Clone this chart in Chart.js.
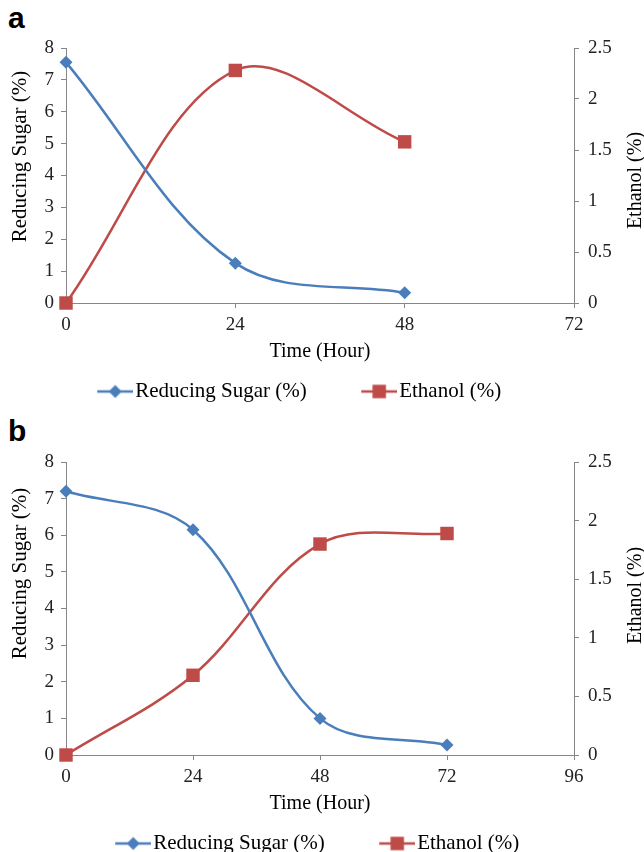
<!DOCTYPE html>
<html>
<head>
<meta charset="utf-8">
<script src="https://cdn.jsdelivr.net/npm/chart.js@4.4.1/dist/chart.umd.min.js"></script>
<style>
html, body { margin: 0; padding: 0; background: #fff; overflow: hidden; }
body { width: 644px; height: 852px; position: relative; }
.panel { position: absolute; left: 0; width: 644px; }
.tag { position: absolute; left: 8px; font: bold 30px "Liberation Sans", Arial, sans-serif; color: #000; line-height: 34px; }
</style>
</head>
<body>
<div class="tag" style="top:1px">a</div>
<div class="panel" style="top:0; height:412px"><canvas id="chartA"></canvas></div>
<div class="tag" style="top:414px">b</div>
<div class="panel" style="top:420px; height:444px"><canvas id="chartB"></canvas></div>
<script>
// panel a
const hoursA = [0, 24, 48];
const sugarA = [7.55, 1.25, 0.32];
const ethanolA = [0, 2.28, 1.58];
const timeTicksA = [0, 24, 48, 72];

// panel b
const hoursB = [0, 24, 48, 72];
const sugarB = [7.2, 6.15, 1.0, 0.27];
const ethanolB = [0, 0.68, 1.8, 1.89];
const timeTicksB = [0, 24, 48, 72, 96];

const sugarTicks = [0, 1, 2, 3, 4, 5, 6, 7, 8];
const ethanolTicks = [0, 0.5, 1, 1.5, 2, 2.5];

const BLUE = '#4a7ebb';
const RED = '#be4b48';
const AXIS = '#868686';
const FONT = '"Liberation Serif", "Times New Roman", serif';
const BOX_W = 72;

// line + marker sample for the legend, the line ends just before the text
function legendGlyph(color, style, r) {
    const c = document.createElement('canvas');
    c.width = BOX_W + 17;
    c.height = 22;
    const g = c.getContext('2d');
    g.strokeStyle = color;
    g.lineWidth = 2.5;
    g.beginPath();
    g.moveTo(c.width - 36, 11);
    g.lineTo(c.width, 11);
    g.stroke();
    g.fillStyle = color;
    Chart.helpers.drawPoint(g, {pointStyle: style, radius: r, borderWidth: 0}, c.width - 18, 11);
    return c;
}

function vText(ctx, text, x, y, size) {
    ctx.save();
    ctx.translate(x, y);
    ctx.rotate(-Math.PI / 2);
    ctx.font = size + 'px ' + FONT;
    ctx.fillStyle = '#000';
    ctx.textAlign = 'center';
    ctx.textBaseline = 'middle';
    ctx.fillText(text, 0, 0);
    ctx.restore();
}

const axisTitles = {
    id: 'axisTitles',
    afterLayout(chart, args, opts) {
        chart.legend.left += opts.legendShift;
        chart.legend.right += opts.legendShift;
    },
    afterDraw(chart, args, opts) {
        const a = chart.chartArea;
        const mid = (a.top + a.bottom) / 2;
        vText(chart.ctx, 'Reducing Sugar (%)', 20, mid + opts.leftOffset, 21);
        vText(chart.ctx, 'Ethanol (%)', 636, mid + opts.rightOffset, 20);
    }
};

function makeChart(id, hours, sugar, ethanol, timeTicks, padTop, leftOffset, rightOffset, legendShift) {
    const glyphs = [legendGlyph(BLUE, 'rectRot', 6.5), legendGlyph(RED, 'rect', 9.5)];
    const tickFont = {family: FONT, size: 19};
    return new Chart(document.getElementById(id), {
        type: 'line',
        data: {
            datasets: [{
                label: 'Reducing Sugar (%)',
                data: hours.map((h, i) => ({x: h, y: sugar[i]})),
                yAxisID: 'y',
                borderColor: BLUE,
                backgroundColor: BLUE,
                borderWidth: 2.5,
                pointStyle: 'rectRot',
                pointRadius: 6.5,
                pointBorderWidth: 0,
                tension: 0.35,
                clip: false
            }, {
                label: 'Ethanol (%)',
                data: hours.map((h, i) => ({x: h, y: ethanol[i]})),
                yAxisID: 'y2',
                borderColor: RED,
                backgroundColor: RED,
                borderWidth: 2.5,
                pointStyle: 'rect',
                pointRadius: 9.5,
                pointBorderWidth: 0,
                tension: 0.35,
                clip: false
            }]
        },
        options: {
            responsive: true,
            maintainAspectRatio: false,
            animation: false,
            layout: {padding: {top: padTop, right: 0, left: 0, bottom: 0}},
            scales: {
                x: {
                    type: 'linear',
                    min: 0,
                    max: timeTicks[timeTicks.length - 1],
                    afterBuildTicks: s => { s.ticks = timeTicks.map(v => ({value: v})); },
                    afterFit: s => { s.height = 68; },
                    grid: {drawOnChartArea: false, drawTicks: true, tickLength: 5, color: AXIS},
                    border: {color: AXIS, width: 1},
                    ticks: {font: tickFont, color: '#222', padding: 6, maxRotation: 0},
                    title: {display: true, text: 'Time (Hour)', font: {family: FONT, size: 20}, color: '#000',
                        padding: {top: 0, bottom: 7}}
                },
                y: {
                    position: 'left',
                    min: 0,
                    max: 8,
                    afterBuildTicks: s => { s.ticks = sugarTicks.map(v => ({value: v})); },
                    afterFit: s => { s.width = 66; },
                    grid: {drawOnChartArea: false, drawTicks: true, tickLength: 5, color: AXIS},
                    border: {color: AXIS, width: 1},
                    ticks: {font: tickFont, color: '#222', padding: 7}
                },
                y2: {
                    position: 'right',
                    min: 0,
                    max: 2.5,
                    afterBuildTicks: s => { s.ticks = ethanolTicks.map(v => ({value: v})); },
                    afterFit: s => { s.width = 70; },
                    grid: {drawOnChartArea: false, drawTicks: true, tickLength: 5, color: AXIS},
                    border: {color: AXIS, width: 1},
                    ticks: {font: tickFont, color: '#222', padding: 9, callback: v => String(v)}
                }
            },
            plugins: {
                tooltip: {enabled: false},
                axisTitles: {leftOffset, rightOffset, legendShift},
                legend: {
                    position: 'bottom',
                    labels: {
                        font: {family: FONT, size: 21},
                        color: '#000',
                        usePointStyle: true,
                        pointStyleWidth: BOX_W,
                        padding: 10,
                        generateLabels: chart => Chart.defaults.plugins.legend.labels.generateLabels(chart)
                            .map((item, i) => Object.assign(item, {pointStyle: glyphs[i]}))
                    }
                }
            }
        },
        plugins: [axisTitles]
    });
}

makeChart('chartA', hoursA, sugarA, ethanolA, timeTicksA, 48, -19, 5, -45);
makeChart('chartB', hoursB, sugarB, ethanolB, timeTicksB, 42, -35, -13, -27);
</script>
</body>
</html>
